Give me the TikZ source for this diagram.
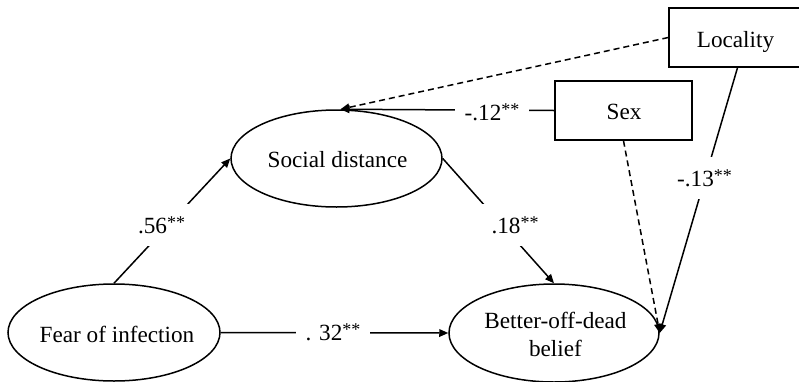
\documentclass[tikz,border=0pt]{standalone}
\usepackage{fontspec}
\setmainfont{Liberation Serif}
\usetikzlibrary{shapes.geometric,arrows.meta}
\newcommand{\sig}{\raisebox{2.6pt}{\fontsize{9}{9}\selectfont **}}
\begin{document}
\begin{tikzpicture}[x=0.5pt,y=-0.5pt,
  font=\fontsize{11.6}{14}\selectfont,
  line width=0.75pt,
  ell/.style={draw,ellipse,inner sep=0pt},
  box/.style={draw,rectangle,inner sep=0pt},
  txt/.style={anchor=base,inner sep=0pt},
  lbl/.style={fill=white,inner xsep=5pt,inner ysep=6pt},
  arr/.style={-{Triangle[length=4.5pt,width=3.8pt]}},
  dsh/.style={dash pattern=on 3pt off 2pt}]
\clip (0,0) rectangle (799,381);
% nodes
\node[ell,minimum width=106pt,minimum height=48.5pt] (fear) at (114,332.5) {};
\node[ell,minimum width=105.5pt,minimum height=48.5pt] (soc) at (336.5,158.5) {};
\node[ell,minimum width=105pt,minimum height=49pt] (better) at (554,333) {};
\node[box,minimum width=68.5pt,minimum height=29.5pt] (sex) at (623.5,110.5) {};
\node[box,minimum width=66.5pt,minimum height=29.5pt] (loc) at (735.5,37.5) {};
% texts
\node[txt] (fearT) at (117,342) {Fear of infection};
\node[txt] (socT) at (337.5,167) {Social distance};
\node[txt] (betterT1) at (555.5,328) {Better-off-dead};
\node[txt] (betterT2) at (555.5,356) {belief};
\node[txt] (sexT) at (624,119) {Sex};
\node[txt] (locT) at (735.5,47) {Locality};
% connectors
\draw[arr] (fear.north) -- (soc.west);
\draw[arr] (soc.east) -- (better.north);
\draw[arr] (fear.east) -- (better.west);
\draw[arr] (sex.west) -- ([xshift=2pt]soc.north);
\draw[arr,dsh] (loc.west) -- ([xshift=2pt]soc.north);
\draw[arr,dsh] (sex.south) -- (better.east);
\draw[arr] ([xshift=1pt]loc.south) -- (better.east);
% labels
\node[lbl] (l56) at (161.5,225) {.56\sig};
\node[lbl] (l18) at (515,225) {.18\sig};
\node[lbl] (l32) at (333,332) {. 32\sig};
\node[lbl] (l12) at (492,112) {-.12\sig};
\node[lbl] (l13) at (704.5,178) {-.13\sig};
\end{tikzpicture}
\end{document}
